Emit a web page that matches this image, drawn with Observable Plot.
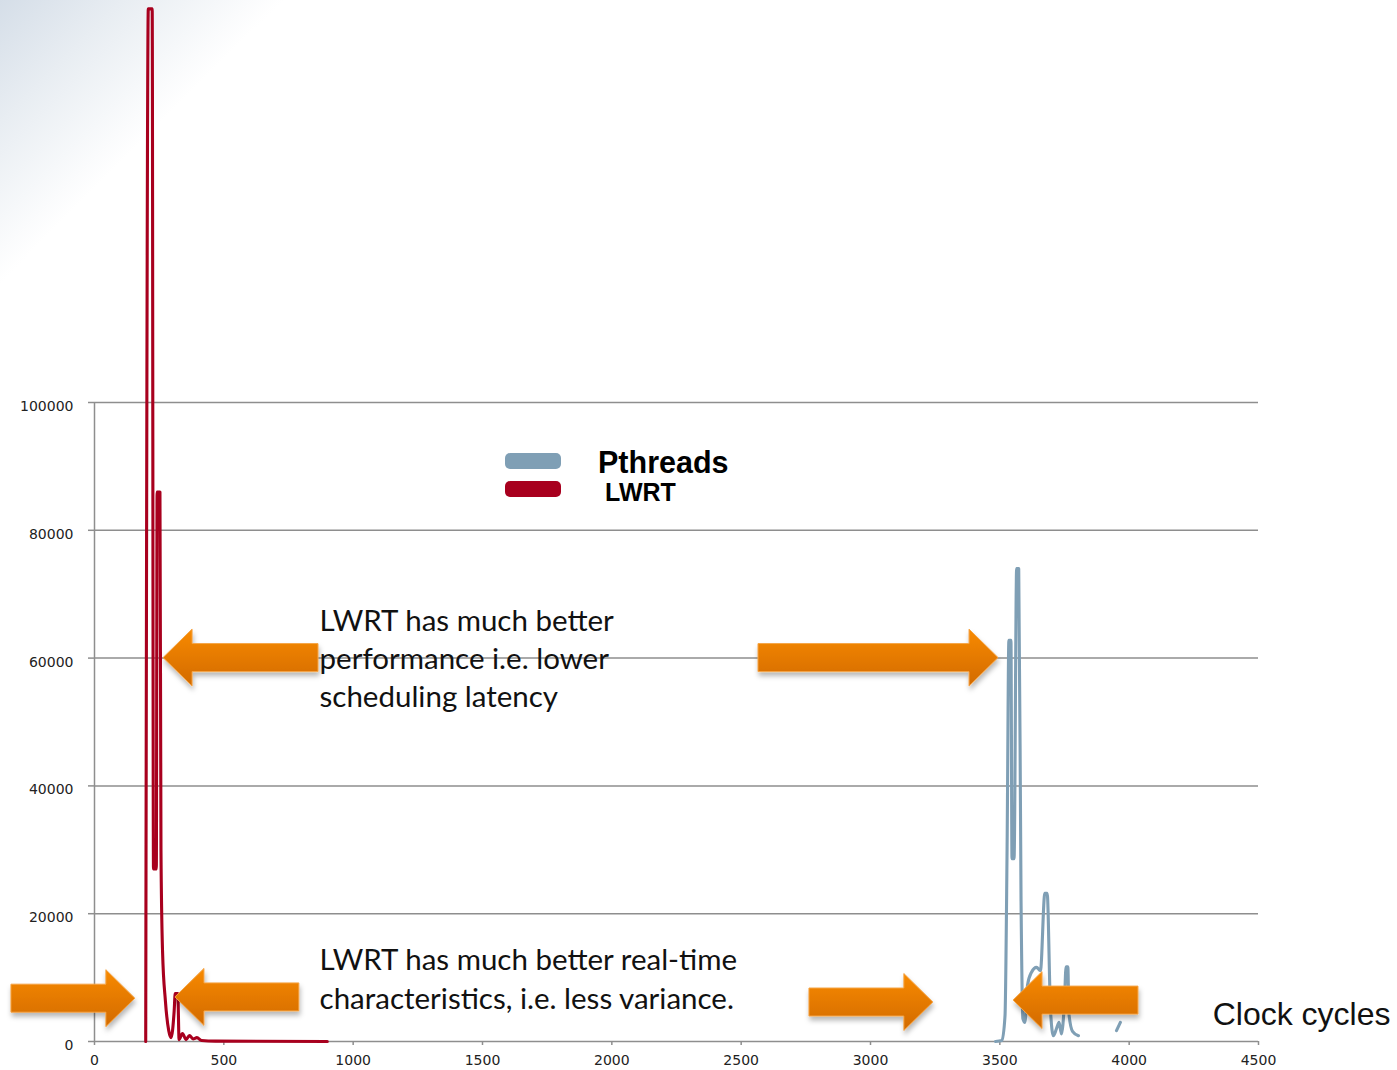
<!DOCTYPE html>
<html><head><meta charset="utf-8">
<script src="https://cdn.jsdelivr.net/npm/d3@7"></script>
<script src="https://cdn.jsdelivr.net/npm/@observablehq/plot@0.6"></script>
<style>
html,body{margin:0;padding:0;}
body{width:1397px;height:1070px;overflow:hidden;background:linear-gradient(135deg,#d5dee8 0%,#e8edf2 5%,#ffffff 11.5%);}
#wrap{position:relative;width:1397px;height:1070px;}
#wrap svg{display:block;}
.sw{position:absolute;left:505px;width:56px;height:16px;border-radius:5px;}
.lt{position:absolute;font-family:"Liberation Sans",Arial,sans-serif;font-weight:bold;color:#000;line-height:1;white-space:nowrap;}
</style></head><body><div id="wrap"></div>
<script>
// ---- data ----
const lwrtCycles = [198, 208, 223, 228, 239, 242, 253, 257, 263, 274, 287, 296, 308, 312, 322, 327, 340, 354, 367, 381, 396, 414, 468, 900];
const lwrtCounts = [0, 161600, 161600, 27000, 27000, 86000, 86000, 29900, 14200, 6400, 1700, 600, 4800, 7500, 7500, 300, 1250, 300, 950, 400, 600, 150, 60, 0];

const pthCycles = [3483, 3508, 3520, 3528, 3535, 3543, 3547, 3555, 3565, 3573, 3582, 3589, 3597, 3607, 3622, 3642, 3657, 3674, 3683, 3696, 3707, 3719, 3729, 3738, 3750, 3756, 3763, 3767, 3781, 3804, 3880, 3951, 3966];
const pthCounts = [0, 150, 4000, 30000, 62800, 62800, 28600, 28600, 74000, 74000, 22000, 3600, 3000, 8800, 10800, 11600, 11100, 23200, 23200, 4800, 900, 2000, 3000, 1200, 6400, 11700, 11700, 4400, 1600, 900, null, 1700, 3000];

const xTicks = [0, 500, 1000, 1500, 2000, 2500, 3000, 3500, 4000, 4500];
const yTicks = [0, 20000, 40000, 60000, 80000, 100000];

const seriesNames = ["Pthreads", "LWRT"];
const axisTitle = "Clock cycles";
const notes = [
  "LWRT has much better\nperformance i.e. lower\nscheduling latency",
  "LWRT has much better real-time\ncharacteristics, i.e. less variance."
];
const noteX = [870, 870];
const noteY = [52300, 5160];

// annotation arrows: tail and tip in data units
const arrowTailX = [866, 2567, -321, 792, 2764, 4036];
const arrowTipX  = [267, 3495, 158, 313, 3243, 3553];
const arrowY     = [60000, 60000, 6700, 6900, 6100, 6400];

// ---- tables ----
const lwrt = lwrtCycles.map((c, i) => ({cycles: c, count: lwrtCounts[i]}));
const pth = pthCycles.map((c, i) => ({cycles: c, count: pthCounts[i]}));
const noteData = notes.map((t, i) => ({text: t, x: noteX[i], y: noteY[i]}));
const arrows = arrowTipX.map((t, i) => ({tail: arrowTailX[i], tip: t, y: arrowY[i]}));

const RED = "#a8001e", BLUE = "#7f9fb5";
const tickFont = {fontFamily: "DejaVu Sans", fontSize: 14};

function arrowMark(data) {
  return (index, scales) => {
    const g = d3.create("svg:g");
    const defs = g.append("defs");
    const grad = defs.append("linearGradient").attr("id", "arrowGrad")
      .attr("x1", 0).attr("y1", 0).attr("x2", 0).attr("y2", 1);
    grad.append("stop").attr("offset", "0%").attr("stop-color", "#f88a00");
    grad.append("stop").attr("offset", "100%").attr("stop-color", "#d26a00");
    const f = defs.append("filter").attr("id", "arrowShadow")
      .attr("x", "-10%").attr("y", "-30%").attr("width", "130%").attr("height", "180%");
    f.append("feDropShadow").attr("dx", 1).attr("dy", 4).attr("stdDeviation", 2.5)
      .attr("flood-color", "#000").attr("flood-opacity", 0.28);
    const hl = 29, bw = 14, hw = 28.5;
    for (const a of data) {
      const xt = scales.x(a.tip), xs = scales.x(a.tail), yc = scales.y(a.y);
      const dir = Math.sign(xt - xs);
      const xb = xt - dir * hl;
      const pts = [[xs, yc - bw], [xb, yc - bw], [xb, yc - hw], [xt, yc], [xb, yc + hw], [xb, yc + bw], [xs, yc + bw]];
      g.append("path")
        .attr("d", "M" + pts.map(p => p.join(",")).join("L") + "Z")
        .attr("fill", "url(#arrowGrad)")
        .attr("stroke", "#f5a445").attr("stroke-width", 1).attr("stroke-linejoin", "miter")
        .attr("filter", "url(#arrowShadow)");
    }
    return g.node();
  };
}

const chart = Plot.plot({
  width: 1397, height: 1070,
  marginLeft: 94, marginRight: 139, marginTop: 402, marginBottom: 29,
  style: {background: "transparent", overflow: "visible"},
  x: {domain: [0, 4500], label: null},
  y: {domain: [0, 100000], label: null},
  marks: [
    Plot.gridY(yTicks.filter(d => d > 0), {stroke: "#8e8e8e", strokeOpacity: 1, strokeWidth: 1.5}),
    Plot.ruleY([0], {stroke: "#8e8e8e", strokeWidth: 1.5}),
    Plot.ruleX([0], {stroke: "#8e8e8e", strokeWidth: 1.5}),
    Plot.axisY({ticks: yTicks, tickSize: 6, fill: "none", stroke: "#8e8e8e", strokeWidth: 1.5, label: null}),
    Plot.axisY({ticks: yTicks, tickSize: 6, tickPadding: 15, stroke: "none", fill: "#222", dy: 4, tickFormat: d3.format("d"), label: null, ...tickFont}),
    Plot.axisX({ticks: xTicks, tickSize: 4, fill: "none", stroke: "#8e8e8e", strokeWidth: 1.5, label: null}),
    Plot.axisX({ticks: xTicks, tickSize: 4, tickPadding: 10, stroke: "none", fill: "#222", tickFormat: d3.format("d"), label: null, ...tickFont}),
    Plot.line(pth, {x: "cycles", y: "count", stroke: BLUE, strokeWidth: 3.1, curve: "monotone-x", strokeLinejoin: "round", strokeLinecap: "round"}),
    Plot.line(lwrt, {x: "cycles", y: "count", stroke: RED, strokeWidth: 3.1, curve: "monotone-x", strokeLinejoin: "round", strokeLinecap: "round"}),
    arrowMark(arrows),
    Plot.text(noteData, {x: "x", y: "y", text: "text", textAnchor: "start", lineAnchor: "bottom", lineHeight: 1.29, fontSize: 29.5, fontFamily: "Lato", fill: "#111"}),
    Plot.text([axisTitle], {frameAnchor: "bottom-right", dx: 132, dy: -17, textAnchor: "end", lineAnchor: "bottom", fontSize: 32, fontFamily: "Liberation Sans", fill: "#111"})
  ]
});

const wrap = document.getElementById("wrap");
wrap.appendChild(chart);

// legend (top = baseline - 0.8465 * font size)
const legend = [
  {name: seriesNames[0], color: BLUE, swTop: 453, txtLeft: 598, baseline: 472.5, size: 30.5},
  {name: seriesNames[1], color: RED, swTop: 481, txtLeft: 605, baseline: 501, size: 25}
];
for (const l of legend) {
  const s = document.createElement("div");
  s.className = "sw"; s.style.top = l.swTop + "px"; s.style.background = l.color;
  wrap.appendChild(s);
  const t = document.createElement("div");
  t.className = "lt"; t.style.left = l.txtLeft + "px";
  t.style.top = (l.baseline - 0.8465 * l.size) + "px"; t.style.fontSize = l.size + "px";
  t.textContent = l.name;
  wrap.appendChild(t);
}
</script></body></html>
